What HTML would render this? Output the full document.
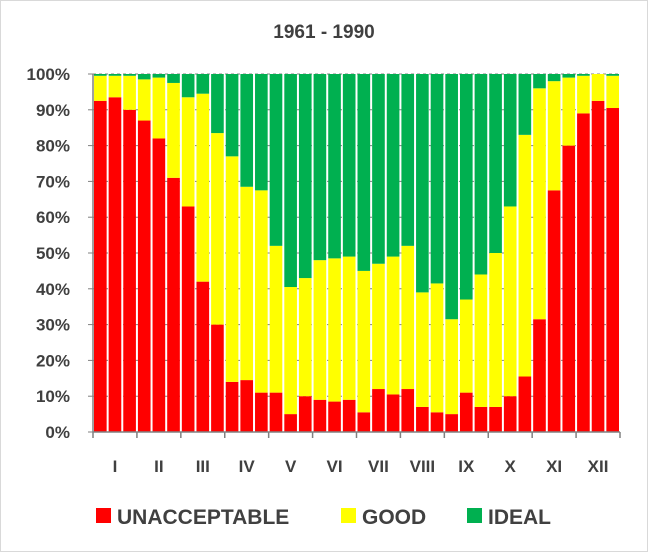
<!DOCTYPE html>
<html><head><meta charset="utf-8"><style>
body{margin:0;background:#fff;}
svg text{font-family:"Liberation Sans",sans-serif;fill:#404040;font-weight:bold;}
</style></head><body>
<svg id="c" width="648" height="552">
<rect x="0.5" y="0.5" width="647" height="551" fill="#fff" stroke="#d9d9d9"/>
<text x="324" y="38" text-anchor="middle" font-size="19">1961 - 1990</text>
<g id="grid"></g><g id="bars"></g><g id="axes"></g>
<g>
<rect x="96" y="508" width="15" height="15" fill="#ff0000"/>
<text x="117" y="524" font-size="21">UNACCEPTABLE</text>
<rect x="341" y="508" width="15" height="15" fill="#ffff00"/>
<text x="362" y="524" font-size="21">GOOD</text>
<rect x="467" y="508" width="15" height="15" fill="#00b050"/>
<text x="488" y="524" font-size="21">IDEAL</text>
</g>
</svg>
<script>
const months=["I","II","III","IV","V","VI","VII","VIII","IX","X","XI","XII"];
const unacceptable=[92.5,93.5,90,87,82,71,63,42,30,14,14.5,11,11,5,10,9,8.5,9,5.5,12,10.5,12,7,5.5,5,11,7,7,10,15.5,31.5,67.5,80,89,92.5,90.5];
const good=[7,6,9.5,11.5,17,26.5,30.5,52.5,53.5,63,54,56.5,41,35.5,33,39,40,40,39.5,35,38.5,40,32,36,26.5,26,37,43,53,67.5,64.5,30.5,19,10.5,7.5,9];
const ideal=unacceptable.map((u,i)=>Math.max(0,100-u-good[i]));
const yTicks=[0,10,20,30,40,50,60,70,80,90,100];
const X0=93,X1=620,Y0=432,Y1=74;
const n=unacceptable.length,slot=(X1-X0)/n;
const y=v=>Y0-(v/100)*(Y0-Y1);
const xs=i=>X0+i*slot;
const NS="http://www.w3.org/2000/svg";
function mk(p,t,a){const e=document.createElementNS(NS,t);for(const k in a)e.setAttribute(k,a[k]);p.appendChild(e);return e;}
const grid=document.getElementById('grid'),bars=document.getElementById('bars'),axes=document.getElementById('axes');
yTicks.forEach(t=>{
 const l=mk(grid,'line',{x1:X0,x2:X1,y1:y(t),y2:y(t),stroke:'#808080','stroke-dasharray':'3,3','stroke-width':1});
 
 
 const tx=mk(axes,'text',{x:X0-23,y:y(t)+6,'text-anchor':'end','font-size':17});
 tx.textContent=t+'%';
 
 
 const tk=mk(axes,'line',{x1:X0-5,x2:X0,y1:y(t),y2:y(t),stroke:'#808080','stroke-width':1});
 
 
});
for(let i=0;i<n;i++){
 const segs=[[unacceptable[i],'#ff0000','unacceptable'],[good[i],'#ffff00','good'],[ideal[i],'#00b050','ideal']];
 let base=0;
 segs.forEach(s=>{
  const r=mk(bars,'rect',{x:xs(i)+1,width:slot-2,y:y(base+s[0]),height:y(base)-y(base+s[0]),fill:s[1]});
  
  
  base+=s[0];
 });
}
const ya=mk(axes,'line',{x1:X0,x2:X0,y1:Y1,y2:Y0,stroke:'#808080','stroke-width':1.5});


const xa=mk(axes,'line',{x1:X0,x2:X1,y1:Y0,y2:Y0,stroke:'#808080','stroke-width':1.5});


for(let m=0;m<=months.length;m++){
 const tk=mk(axes,'line',{x1:xs(m*3),x2:xs(m*3),y1:Y0,y2:Y0+6,stroke:'#808080','stroke-width':1.5});
 
 
 if(m<months.length){
  const tx=mk(axes,'text',{x:xs(m*3+1.5),y:Y0+40,'text-anchor':'middle','font-size':17});
  tx.textContent=months[m];
  
  
 }
}
</script>
</body></html>
